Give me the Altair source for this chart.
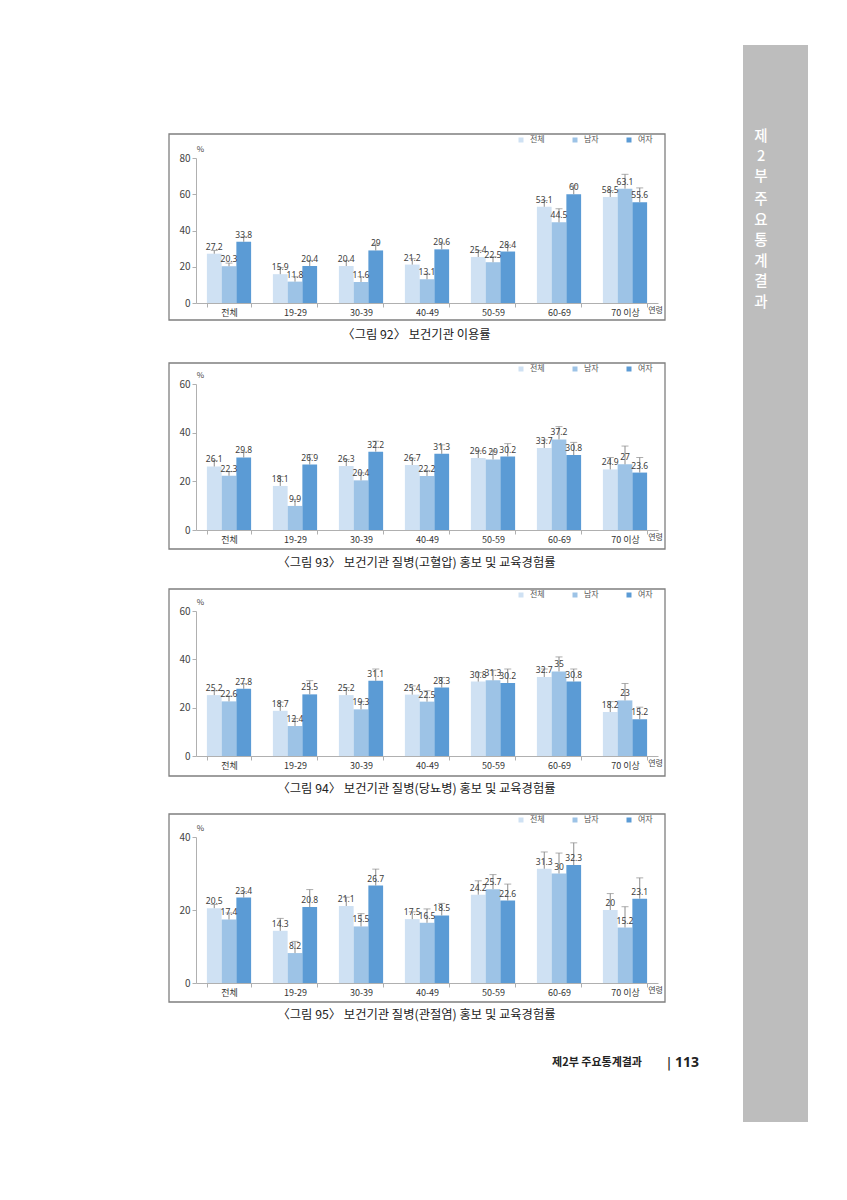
import altair as alt
import pandas as pd

# ---------------- data ----------------
groups = ["전체", "19-29", "30-39", "40-49", "50-59", "60-69", "70 이상"]
sexes = ["전체", "남자", "여자"]
colors = ["#cfe1f3", "#9dc3e6", "#5b9bd5"]

captions = [
    "〈그림 92〉 보건기관 이용률",
    "〈그림 93〉 보건기관 질병(고혈압) 홍보 및 교육경험률",
    "〈그림 94〉 보건기관 질병(당뇨병) 홍보 및 교육경험률",
    "〈그림 95〉 보건기관 질병(관절염) 홍보 및 교육경험률",
]
y_max = [80, 60, 60, 40]
y_ticks = [[0, 20, 40, 60, 80], [0, 20, 40, 60], [0, 20, 40, 60], [0, 20, 40]]

# 그림 92
f92_total = [27.2, 15.9, 20.4, 21.2, 25.4, 53.1, 58.5]
f92_male = [20.3, 11.8, 11.6, 13.1, 22.5, 44.5, 63.1]
f92_female = [33.8, 20.4, 29, 29.6, 28.4, 60, 55.6]
f92_total_hi = [29.0, 19.5, 23.5, 24.5, 29.0, 56.5, 62.0]
f92_male_hi = [22.0, 14.5, 14.5, 16.0, 25.5, 52.0, 71.0]
f92_female_hi = [36.5, 23.5, 32.5, 33.0, 32.0, 65.0, 63.5]

# 그림 93
f93_total = [26.1, 18.1, 26.3, 26.7, 29.6, 33.7, 24.9]
f93_male = [22.3, 9.9, 20.4, 22.2, 29, 37.2, 27]
f93_female = [29.8, 26.9, 32.2, 31.3, 30.2, 30.8, 23.6]
f93_total_hi = [28.5, 22.0, 29.0, 29.5, 32.5, 37.0, 29.8]
f93_male_hi = [24.0, 12.5, 23.5, 24.5, 32.5, 42.5, 34.5]
f93_female_hi = [32.0, 31.0, 36.5, 35.0, 35.5, 36.0, 29.8]

# 그림 94
f94_total = [25.2, 18.7, 25.2, 25.4, 30.8, 32.7, 18.2]
f94_male = [22.6, 12.4, 19.3, 22.5, 31.3, 35, 23]
f94_female = [27.8, 25.5, 31.1, 28.3, 30.2, 30.8, 15.2]
f94_total_hi = [27.0, 22.3, 28.3, 29.0, 34.5, 36.0, 22.5]
f94_male_hi = [24.8, 15.5, 22.5, 27.0, 35.5, 41.0, 30.0]
f94_female_hi = [30.0, 31.2, 36.0, 32.5, 36.0, 36.0, 20.2]

# 그림 95
f95_total = [20.5, 14.3, 21.1, 17.5, 24.2, 31.3, 20]
f95_male = [17.4, 8.2, 15.5, 16.5, 25.7, 30, 15.2]
f95_female = [23.4, 20.8, 26.7, 18.5, 22.6, 32.3, 23.1]
f95_total_hi = [21.5, 17.7, 23.5, 19.5, 28.0, 35.9, 24.5]
f95_male_hi = [19.2, 11.4, 19.0, 20.3, 29.7, 35.6, 20.9]
f95_female_hi = [25.0, 25.6, 31.2, 21.8, 27.1, 38.4, 28.8]

series = [
    ([f92_total, f92_male, f92_female], [f92_total_hi, f92_male_hi, f92_female_hi]),
    ([f93_total, f93_male, f93_female], [f93_total_hi, f93_male_hi, f93_female_hi]),
    ([f94_total, f94_male, f94_female], [f94_total_hi, f94_male_hi, f94_female_hi]),
    ([f95_total, f95_male, f95_female], [f95_total_hi, f95_male_hi, f95_female_hi]),
]

side_chars_1 = ["제", "2", "부"]
side_chars_2 = ["주", "요", "통", "계", "결", "과"]

# ---------------- layout / style ----------------
FONT = "Noto Sans CJK KR"
NUMFONT = "Liberation Sans Narrow, Noto Sans"
W = 462
heights = [145, 146, 145, 146]
frame_tops = [-24, -21, -22, -23]
frame_bots = [162, 165, 165, 165]
cap_ys = [177, 179, 178, 178]
AXIS_GRAY = "#b0b0b0"
ERR_GRAY = "#8c8c8c"

one = pd.DataFrame({"k": [0]})


def panel(i):
    vals, his = series[i]
    rows = []
    for gi, g in enumerate(groups):
        for si, s in enumerate(sexes):
            rows.append(dict(group=g, sex=s, value=vals[si][gi], hi=his[si][gi],
                             label=f"{vals[si][gi]:g}"))
    df = pd.DataFrame(rows)

    xaxis = alt.Axis(title="연령", titleX=459, titleY=7, titleBaseline="middle",
                     titleAlign="center", titleFontSize=8, titleFontWeight="normal",
                     titleColor="#444", titleFont=FONT,
                     labelAngle=0, labelFontSize=9, labelColor="#333", labelFont=FONT,
                     labelPadding=1, tickBand="extent", tickSize=4,
                     domainColor=AXIS_GRAY, tickColor=AXIS_GRAY, zindex=1)
    yaxis = alt.Axis(title="%", titleAngle=0, titleX=4, titleY=-9, titleFontSize=8,
                     titleFontWeight="normal", titleColor="#444", titleAlign="center",
                     titleBaseline="middle", titleFont=FONT,
                     values=y_ticks[i], labelFontSize=10, labelColor="#444",
                     labelFont=FONT, tickSize=4, labelPadding=2,
                     domainColor=AXIS_GRAY, tickColor=AXIS_GRAY, grid=False, zindex=1)
    yscale = alt.Scale(domain=[0, y_max[i]], nice=False, zero=True)

    base = alt.Chart(df).encode(
        x=alt.X("group:N", sort=groups,
                scale=alt.Scale(paddingInner=0.33, paddingOuter=0.165), axis=xaxis),
        xOffset=alt.XOffset("sex:N", sort=sexes),
    )
    bars = base.mark_bar().encode(
        y=alt.Y("value:Q", scale=yscale, axis=yaxis),
        color=alt.Color("sex:N", sort=sexes,
                        scale=alt.Scale(domain=sexes, range=colors),
                        legend=alt.Legend(orient="none", legendX=321,
                                          legendY=frame_tops[i] + 2,
                                          direction="horizontal", title=None,
                                          symbolType="square", symbolSize=25,
                                          symbolStrokeWidth=0, labelFontSize=8,
                                          labelColor="#555", labelFont=FONT,
                                          columnPadding=26, labelOffset=5,
                                          padding=0)),
    )
    err = base.mark_rule(color=ERR_GRAY, strokeWidth=1).encode(
        y=alt.Y("value:Q", scale=yscale, axis=yaxis), y2="hi:Q")
    cap = base.mark_tick(color=ERR_GRAY, size=7, thickness=1).encode(
        y=alt.Y("hi:Q", scale=yscale, axis=yaxis))
    lab = base.mark_text(fontSize=8.5, color="#404040", font=NUMFONT,
                         baseline="bottom", dy=-2).encode(
        y=alt.Y("value:Q", scale=yscale, axis=yaxis), text="label:N")

    frame = alt.Chart(one).mark_rect(fillOpacity=0, stroke="#7f7f7f", strokeWidth=1.3).encode(
        x=alt.value(-27), x2=alt.value(469),
        y=alt.value(frame_tops[i]), y2=alt.value(frame_bots[i]))
    caption = alt.Chart(one).mark_text(fontSize=12.3, color="#222", font=FONT,
                                       align="center", baseline="middle").encode(
        x=alt.value(220.5), y=alt.value(cap_ys[i]), text=alt.value(captions[i]))

    layers = []
    if i == 0:
        page = alt.Chart(one).mark_rect(color="white", strokeWidth=0).encode(
            x=alt.value(-196), x2=alt.value(651), y=alt.value(-158), y2=alt.value(1042))
        side = alt.Chart(one).mark_rect(color="#bdbdbd", strokeWidth=0).encode(
            x=alt.value(547), x2=alt.value(612), y=alt.value(-113), y2=alt.value(964))
        side_t1 = alt.Chart(one).mark_text(fontSize=14.5, color="white", font=FONT,
                                           align="center", baseline="middle",
                                           lineHeight=20, fontWeight=500).encode(
            x=alt.value(565), y=alt.value(-21), text=alt.value(side_chars_1))
        side_t2 = alt.Chart(one).mark_text(fontSize=14.5, color="white", font=FONT,
                                           align="center", baseline="middle",
                                           lineHeight=20.6, fontWeight=500).encode(
            x=alt.value(565), y=alt.value(42),
            text=alt.value(side_chars_2))
        foot1 = alt.Chart(one).mark_text(fontSize=11, color="#222", font=FONT,
                                         align="right", baseline="middle",
                                         fontWeight="bold").encode(
            x=alt.value(446), y=alt.value(905), text=alt.value("제2부 주요통계결과"))
        foot2 = alt.Chart(one).mark_text(fontSize=12, color="#222", font=FONT,
                                         align="center", baseline="middle",
                                         fontWeight="bold").encode(
            x=alt.value(473), y=alt.value(905), text=alt.value("|"))
        foot3 = alt.Chart(one).mark_text(fontSize=14, color="#222", font="Noto Sans",
                                         align="left", baseline="middle",
                                         fontWeight="bold").encode(
            x=alt.value(479), y=alt.value(905), text=alt.value("113"))
        layers += [page, side, side_t1, side_t2, foot1, foot2, foot3]
    layers += [frame, bars, err, cap, lab, caption]
    return alt.layer(*layers).properties(width=W, height=heights[i])


chart = alt.vconcat(*[panel(i) for i in range(4)], spacing=81, bounds="flush").resolve_scale(
    color="independent", x="independent", y="independent"
).resolve_legend(color="independent").properties(padding=0).configure(
    font=FONT, background="white"
).configure_view(stroke=None)

chart.save("out.html", embed_options={"renderer": "svg", "actions": False})
